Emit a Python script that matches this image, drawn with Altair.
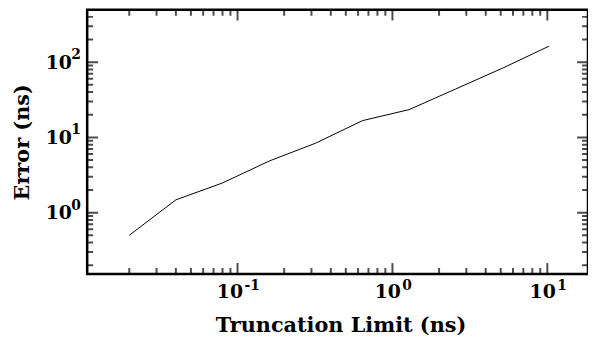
import altair as alt
import pandas as pd

# data
trunc_limit = [0.02, 0.04, 0.08, 0.16, 0.32, 0.64, 1.28, 2.56, 5.12, 10.24]
error_ns = [0.50, 1.48, 2.48, 4.85, 8.4, 16.7, 23.4, 44.0, 83.0, 163.0]

x_major = [0.1, 1, 10]
x_exponents = ["-1", "0", "1"]
x_minor = [0.02, 0.03, 0.04, 0.05, 0.06, 0.07, 0.08, 0.09,
           0.2, 0.3, 0.4, 0.5, 0.6, 0.7, 0.8, 0.9,
           2, 3, 4, 5, 6, 7, 8, 9]
y_major = [1, 10, 100]
y_exponents = ["0", "1", "2"]
y_minor = [0.2, 0.3, 0.4, 0.5, 0.6, 0.7, 0.8, 0.9,
           2, 3, 4, 5, 6, 7, 8, 9,
           20, 30, 40, 50, 60, 70, 80, 90,
           200, 300, 400]

x_domain = [0.0107, 18.3]
y_domain = [0.153, 498]

W, H = 506, 267
FONT = "DejaVu Serif"

df = pd.DataFrame({"t": trunc_limit, "e": error_ns})

xs = alt.Scale(type="log", domain=x_domain, nice=False)
ys = alt.Scale(type="log", domain=y_domain, nice=False)

# one axis definition, shared by every layer
x_axis = alt.Axis(
    orient="bottom", values=x_major, labelExpr="'10'", ticks=False,
    domain=False, grid=False, labelFont=FONT, labelFontWeight="bold",
    labelFontSize=19, labelColor="black", labelAlign="right",
    labelBaseline="top", labelPadding=9,
    labelOffset=alt.condition("datum.value < 0.5", alt.value(5), alt.value(8)),
    title="Truncation Limit (ns)", titleFont=FONT, titleFontWeight="bold",
    titleFontSize=21, titleColor="black", titleX=256, titleY=52,
    titleBaseline="middle")
y_axis = alt.Axis(
    orient="left", values=y_major, labelExpr="'10'", ticks=False,
    domain=False, grid=False, labelFont=FONT, labelFontWeight="bold",
    labelFontSize=19, labelColor="black", labelAlign="right",
    labelBaseline="middle", labelPadding=16,
    title="Error (ns)", titleFont=FONT, titleFontWeight="bold",
    titleFontSize=21, titleColor="black", titleX=-65, titleBaseline="middle")


def xy():
    return dict(x=alt.X("t:Q", scale=xs, axis=x_axis),
                y=alt.Y("e:Q", scale=ys, axis=y_axis))


# tick tables: tick values placed on both edges of the frame
xt_major = pd.DataFrame({"t": x_major * 2, "e": [y_domain[0]] * 3 + [y_domain[1]] * 3})
xt_minor = pd.DataFrame({"t": x_minor * 2,
                         "e": [y_domain[0]] * len(x_minor) + [y_domain[1]] * len(x_minor)})
yt_major = pd.DataFrame({"e": y_major * 2, "t": [x_domain[0]] * 3 + [x_domain[1]] * 3})
yt_minor = pd.DataFrame({"e": y_minor * 2,
                         "t": [x_domain[0]] * len(y_minor) + [x_domain[1]] * len(y_minor)})


def ticks(data, orient, size):
    # tick centred on the frame edge and clipped, so only the inner half shows
    return alt.Chart(data).mark_tick(orient=orient, size=size, thickness=2,
                                     color="black", clip=True).encode(**xy())


t1 = ticks(xt_major, "vertical", 22)
t2 = ticks(xt_minor, "vertical", 12)
t3 = ticks(yt_major, "horizontal", 22)
t4 = ticks(yt_minor, "horizontal", 12)

# exponent (superscript) texts next to the "10" axis labels
xe = pd.DataFrame({"t": x_major, "e": [y_domain[0]] * 3, "lab": x_exponents})
ye = pd.DataFrame({"e": y_major, "t": [x_domain[0]] * 3, "lab": y_exponents})

e1 = alt.Chart(xe).transform_filter("datum.t < 0.5").mark_text(
    align="left", baseline="top", dx=7, dy=5, font=FONT, fontWeight="bold",
    fontSize=14, color="black").encode(text="lab:N", **xy())
e2 = alt.Chart(xe).transform_filter("datum.t > 0.5").mark_text(
    align="left", baseline="top", dx=10, dy=5, font=FONT, fontWeight="bold",
    fontSize=14, color="black").encode(text="lab:N", **xy())
e3 = alt.Chart(ye).mark_text(
    align="left", baseline="middle", dx=-16, dy=-7, font=FONT, fontWeight="bold",
    fontSize=14, color="black").encode(text="lab:N", **xy())

line = alt.Chart(df).mark_line(color="black", strokeWidth=1).encode(**xy())

chart = alt.layer(t1, t2, t3, t4, e1, e2, e3, line).properties(
    width=W, height=H,
    autosize=alt.AutoSizeParams(type="none"),
    padding={"left": 80, "top": 0, "right": 0, "bottom": 68},
    background="white",
).configure_view(stroke="black", strokeWidth=2.5)

chart.save("out.html", embed_options={"renderer": "svg", "actions": False})
